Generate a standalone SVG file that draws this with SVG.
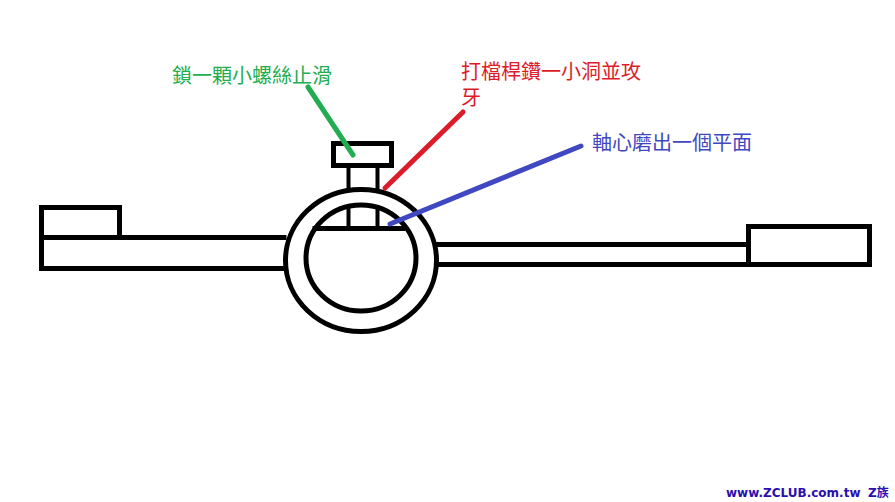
<svg xmlns="http://www.w3.org/2000/svg" width="895" height="502" viewBox="0 0 895 502">
<style>
.k{fill:none;stroke:#000;stroke-width:5;stroke-linecap:square}
.l{font-family:"Noto Sans CJK TC","Liberation Sans",sans-serif;font-size:20px}
.c{fill:none;stroke-width:5;stroke-linecap:round}
</style>
<rect width="895" height="502" fill="#fff"/>
<g id="left-handle" class="k">
<path d="M41.500 207.500H119.500V237.500M41.500 207.500V268.500H284M41.500 237.500H284"/>
</g>
<g id="right-handle" class="k">
<path d="M438 244.500H748.500M438 264.500H748.500"/>
<rect x="748.500" y="226.500" width="121" height="38"/>
</g>
<g id="bolt" class="k">
<rect x="333.500" y="143.500" width="58" height="22"/>
<path d="M348.500 166V188M377.500 166V188M348.500 207V227M377.500 207V227" stroke-width="4"/>
</g>
<g id="ring" class="k">
<ellipse cx="361" cy="260.500" rx="75.500" ry="71"/>
<ellipse cx="361" cy="258" rx="55" ry="53"/>
<path d="M315 228.500H403"/>
</g>
<g id="connectors">
<path class="c" stroke="#22ad50" d="M308 87L353 155"/>
<path class="c" stroke="#dc1c2a" d="M463 112L385 188"/>
<path class="c" stroke="#3f48c0" d="M581 146L390 224"/>
</g>
<g id="label-green"><text class="l" x="172" y="83" fill="#22ad50">鎖一顆小螺絲止滑</text></g>
<g id="label-red"><text class="l" x="461" y="79" fill="#dc1c2a">打檔桿鑽一小洞並攻<tspan x="461" y="105">牙</tspan></text></g>
<g id="label-blue"><text class="l" x="592" y="150" fill="#3f48c0">軸心磨出一個平面</text></g>
<g id="watermark"><text x="726" y="497" font-family="'DejaVu Sans','Noto Sans CJK TC',sans-serif" font-weight="700" font-size="12" fill="#2a0fb0">www.ZCLUB.com.tw<tspan x="868">Z族</tspan></text></g>
</svg>
